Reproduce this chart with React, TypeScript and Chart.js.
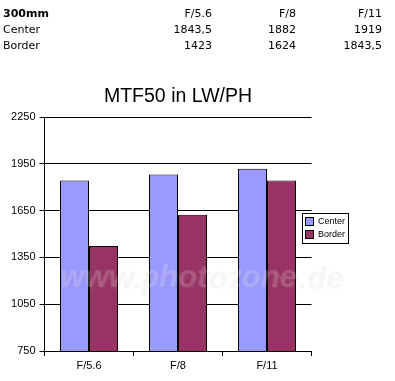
import React, { useEffect, useRef } from "react";
import { Chart, registerables } from "chart.js";

Chart.register(...registerables);

const categories = ["F/5.6", "F/8", "F/11"];
const tableCategories = ["F/5.6", "F/8", "F/11"];
const centerValues = [1843.5, 1882, 1919];
const borderValues = [1423, 1624, 1843.5];
const centerLabels = ["1843,5", "1882", "1919"];
const borderLabels = ["1423", "1624", "1843,5"];
const yTicks = [750, 1050, 1350, 1650, 1950, 2250];

const AXIS_FONT = "'Liberation Sans', Arial, sans-serif";
const TABLE_FONT = "'DejaVu Sans', Verdana, sans-serif";

const watermarkPlugin = {
  id: "watermark",
  afterDatasetsDraw(chart: any) {
    const { ctx } = chart;
    ctx.save();
    ctx.font = `italic bold 31px ${AXIS_FONT}`;
    ctx.textAlign = "center";
    ctx.textBaseline = "alphabetic";
    ctx.fillStyle = "rgba(170,165,150,0.10)";
    ctx.fillText("www.photozone.de", 203, 289);
    ctx.fillStyle = "rgba(248,246,240,0.18)";
    ctx.fillText("www.photozone.de", 201, 287);
    ctx.restore();
  },
};

const boxLegendPlugin = {
  id: "boxLegend",
  afterDraw(chart: any) {
    const { ctx } = chart;
    const x = 302;
    const y = 213;
    const w = 46;
    const h = 30;
    ctx.save();
    ctx.fillStyle = "#ffffff";
    ctx.fillRect(x, y, w, h);
    ctx.strokeStyle = "#000000";
    ctx.lineWidth = 1;
    ctx.strokeRect(x + 0.5, y + 0.5, w, h);
    ctx.font = `9px ${AXIS_FONT}`;
    ctx.textBaseline = "middle";
    ctx.textAlign = "left";
    chart.data.datasets.forEach((ds: any, i: number) => {
      const iy = y + 4 + i * 13;
      ctx.fillStyle = ds.backgroundColor;
      ctx.fillRect(x + 3, iy, 9, 9);
      ctx.strokeRect(x + 3.5, iy + 0.5, 8, 8);
      ctx.fillStyle = "#000000";
      ctx.fillText(ds.label, x + 16, iy + 5);
    });
    ctx.restore();
  },
};

function ChartView() {
  const ref = useRef<HTMLCanvasElement | null>(null);
  useEffect(() => {
    if (!ref.current) return;
    const chart = new Chart(ref.current, {
      type: "bar",
      data: {
        labels: categories,
        datasets: [
          {
            label: "Center",
            data: centerValues,
            backgroundColor: "#9999FF",
            borderColor: "#000000",
            borderWidth: 1,
            categoryPercentage: 58 / 89,
            barPercentage: 1,
          },
          {
            label: "Border",
            data: borderValues,
            backgroundColor: "#993366",
            borderColor: "#000000",
            borderWidth: 1,
            categoryPercentage: 58 / 89,
            barPercentage: 1,
          },
        ],
      },
      options: {
        responsive: false,
        animation: false,
        devicePixelRatio: 1,
        layout: { padding: { left: 0, right: 83.5, top: 0, bottom: 0 } },
        plugins: {
          legend: { display: false },
          tooltip: { enabled: false },
          title: {
            display: true,
            fullSize: false,
            text: "MTF50 in LW/PH",
            color: "#000000",
            font: { family: AXIS_FONT, size: 19.5, weight: "normal" },
            padding: { top: 85, bottom: 8.6 },
          },
        },
        scales: {
          x: {
            grid: {
              display: true,
              drawOnChartArea: false,
              drawTicks: true,
              tickLength: 5,
              color: "#000000",
              offset: true,
            },
            border: { display: true, color: "#000000" },
            ticks: {
              color: "#000000",
              font: { family: AXIS_FONT, size: 11 },
              padding: 3,
              maxRotation: 0,
            },
            afterFit(scale: any) {
              scale.height = 30;
            },
          },
          y: {
            min: yTicks[0],
            max: yTicks[yTicks.length - 1],
            afterBuildTicks(scale: any) {
              scale.ticks = yTicks.map((v) => ({ value: v }));
            },
            grid: {
              color: "#000000",
              tickLength: 5,
              drawTicks: true,
            },
            border: { display: true, color: "#000000" },
            ticks: {
              color: "#000000",
              font: { family: AXIS_FONT, size: 11 },
              padding: 4,
              callback: (v: any) => String(v),
            },
            afterFit(scale: any) {
              scale.width = 44.5;
            },
          },
        },
      },
      plugins: [watermarkPlugin, boxLegendPlugin],
    });
    return () => chart.destroy();
  }, []);
  return (
    <canvas
      ref={ref}
      width={395}
      height={381}
      style={{ position: "absolute", left: 0, top: 0, width: 395, height: 381 }}
    />
  );
}

const colRights = [212, 296, 382];
const rowTops = [7, 23, 39];

function Table() {
  const cell = (text: string, top: number, right: number | null, bold = false) => (
    <div
      key={`${text}-${top}-${right}`}
      style={{
        position: "absolute",
        top,
        left: right === null ? 3 : undefined,
        right: right === null ? undefined : 395 - right,
        fontFamily: TABLE_FONT,
        fontSize: 11,
        lineHeight: "13px",
        fontWeight: bold ? "bold" : "normal",
        color: "#000000",
        whiteSpace: "nowrap",
      }}
    >
      {text}
    </div>
  );
  return (
    <>
      {cell("300mm", rowTops[0], null, true)}
      {tableCategories.map((c, i) => cell(c, rowTops[0], colRights[i]))}
      {cell("Center", rowTops[1], null)}
      {centerLabels.map((c, i) => cell(c, rowTops[1], colRights[i]))}
      {cell("Border", rowTops[2], null)}
      {borderLabels.map((c, i) => cell(c, rowTops[2], colRights[i]))}
    </>
  );
}

export default function App() {
  return (
    <div
      style={{
        position: "fixed",
        left: 0,
        top: 0,
        width: 395,
        height: 381,
        background: "#ffffff",
        overflow: "hidden",
      }}
    >
      <ChartView />
      <div style={{ position: "absolute", left: 0, top: 0, width: 395, height: 60, zIndex: 2 }}>
        <Table />
      </div>
    </div>
  );
}
